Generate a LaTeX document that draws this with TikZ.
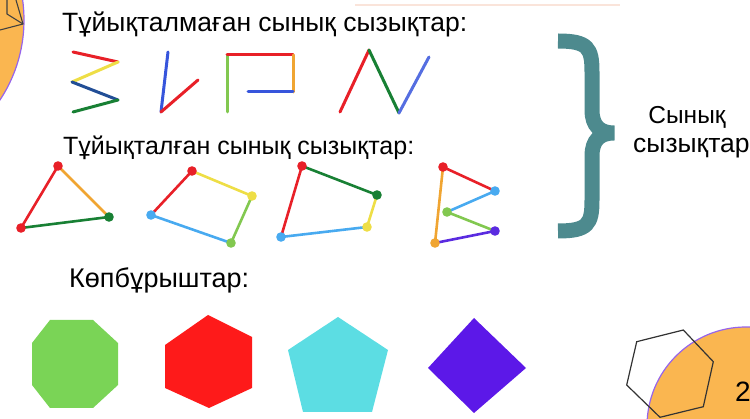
\documentclass[tikz,border=0pt]{standalone}
\usepackage{fontspec}
\setmainfont{Liberation Sans}
\definecolor{cred}{RGB}{232,32,40}
\definecolor{cyel}{RGB}{238,222,70}
\definecolor{cdblue}{RGB}{34,78,150}
\definecolor{cdgreen}{RGB}{24,128,52}
\definecolor{cblue}{RGB}{55,85,220}
\definecolor{corange}{RGB}{240,165,50}
\definecolor{clgreen}{RGB}{130,200,80}
\definecolor{cblue2}{RGB}{85,110,225}
\definecolor{clblue}{RGB}{72,170,240}
\definecolor{cpurple}{RGB}{90,43,224}
\definecolor{cteal}{RGB}{77,138,142}
\definecolor{octgreen}{RGB}{122,212,86}
\definecolor{hexred}{RGB}{254,26,26}
\definecolor{pentcyan}{RGB}{92,221,227}
\definecolor{diapurple}{RGB}{92,24,232}
\definecolor{circorange}{RGB}{250,182,80}
\definecolor{circedge}{RGB}{150,100,235}
\definecolor{faint}{RGB}{250,228,218}
\begin{document}
\begin{tikzpicture}[x=1pt,y=-1pt,
  ln/.style={line width=3pt,line cap=round,line join=round},
  cl/.style={line width=2.6pt,line cap=round},
  dotr/.style={radius=4.8pt},
  title/.style={anchor=base west,inner sep=0pt}]
\useasboundingbox (0,0) rectangle (750,419);
\clip (0,0) rectangle (750,419);
% corner decorations
\fill[circorange] (-121,20) circle (145pt);
\draw[circedge,line width=1.2pt] (-121,20) circle (145pt);
\draw[black!75,line width=1.1pt] (7,0) -- (7,14) -- (23,24);
\draw[black!75,line width=1.1pt] (16,0) -- (23,24) -- (0,30);
\draw[faint,line width=1.5pt] (355,5) -- (620,5);
\fill[circorange] (746,426) circle (99pt);
\draw[circedge,line width=1.2pt] (746,426) circle (99pt);
\draw[black!80,line width=1.2pt] (636.7,341.7) -- (683.3,330) -- (713.3,361.7) -- (703.3,406.7) -- (660,417.3) -- (626.7,385) -- cycle;
\node[anchor=base west,inner sep=0pt,font=\fontsize{28}{30}\selectfont] (pg) at (735,402) {2};
% titles
\node[title,font=\fontsize{26.5}{30}\selectfont] (t1) at (62,32) {Тұйықталмаған сынық сызықтар:};
\node[title,font=\fontsize{25}{30}\selectfont] (t2) at (63,155) {Тұйықталған сынық сызықтар:};
\node[title,font=\fontsize{27}{30}\selectfont] (t3) at (69,288) {Көпбұрыштар:};
% open polylines
\draw[ln,cred] (73,52) -- (118,62);
\draw[ln,cyel] (118,62) -- (72,82);
\draw[ln,cdblue] (72,82) -- (118,100);
\draw[ln,cdgreen] (118,100) -- (73,112);
\draw[ln,cblue] (168,52) -- (161,112);
\draw[ln,cred] (161,112) -- (198,80);
\draw[ln,clgreen] (227,112) -- (227,55);
\draw[ln,cred] (227,55) -- (293,55);
\draw[ln,corange] (293,55) -- (293,92);
\draw[ln,cblue] (293,92) -- (248,92);
\draw[ln,cred] (340,112) -- (369,50);
\draw[ln,cdgreen] (369,50) -- (399,113);
\draw[ln,cblue2] (399,113) -- (429,57);
% closed polylines
\coordinate (a1) at (58,166); \coordinate (a2) at (21,228); \coordinate (a3) at (109,217);
\draw[cl,cred] (a1) -- (a2);
\draw[cl,corange] (a1) -- (a3);
\draw[cl,cdgreen] (a2) -- (a3);
\fill[cred] (a1) circle[dotr]; \fill[cred] (a2) circle[dotr]; \fill[cdgreen] (a3) circle[dotr];
\coordinate (b1) at (192,171); \coordinate (b2) at (252,196); \coordinate (b3) at (231,243); \coordinate (b4) at (151,215);
\draw[cl,cred] (b4) -- (b1);
\draw[cl,cyel] (b1) -- (b2);
\draw[cl,clgreen] (b2) -- (b3);
\draw[cl,clblue] (b3) -- (b4);
\fill[cred] (b1) circle[dotr]; \fill[cyel] (b2) circle[dotr]; \fill[clgreen] (b3) circle[dotr]; \fill[clblue] (b4) circle[dotr];
\coordinate (c1) at (302,166); \coordinate (c2) at (377,195); \coordinate (c3) at (367,227); \coordinate (c4) at (281,237);
\draw[cl,cdgreen] (c1) -- (c2);
\draw[cl,cyel] (c2) -- (c3);
\draw[cl,clblue] (c3) -- (c4);
\draw[cl,cred] (c4) -- (c1);
\fill[cred] (c1) circle[dotr]; \fill[cdgreen] (c2) circle[dotr]; \fill[cyel] (c3) circle[dotr]; \fill[clblue] (c4) circle[dotr];
\coordinate (d1) at (443,167); \coordinate (d2) at (495,191); \coordinate (d3) at (447,212); \coordinate (d4) at (495,231); \coordinate (d5) at (435,243);
\draw[cl,cred] (d1) -- (d2);
\draw[cl,clblue] (d2) -- (d3);
\draw[cl,clgreen] (d3) -- (d4);
\draw[cl,cpurple] (d4) -- (d5);
\draw[cl,corange] (d5) -- (d1);
\fill[cred] (d1) circle[dotr]; \fill[clblue] (d2) circle[dotr]; \fill[clgreen] (d3) circle[dotr]; \fill[cpurple] (d4) circle[dotr]; \fill[corange] (d5) circle[dotr];
% brace
\draw[line width=15pt,cteal,line join=miter] (558,41) .. controls (588,41) and (592,48) .. (592,72) -- (592,110)
  .. controls (592,126) and (600,133) .. (614,133)
  .. controls (600,133) and (592,140) .. (592,156) -- (592,200)
  .. controls (592,224) and (588,231) .. (558,231);
\node[anchor=base,inner sep=0pt,font=\fontsize{24.5}{28}\selectfont] (s1) at (687,124) {Сынық};
\node[anchor=base west,inner sep=0pt,font=\fontsize{26.5}{28}\selectfont] (s2) at (633,153) {сызықтар};
% polygons
\fill[octgreen] (50,320) -- (93,320) -- (118,343) -- (118,385) -- (93,408) -- (50,408) -- (32,385) -- (32,343) -- cycle;
\fill[hexred] (208,315) -- (252,337) -- (252,388) -- (209,408) -- (165,388) -- (165,345) -- cycle;
\fill[pentcyan] (338,317) -- (388,350) -- (372,412) -- (303,412) -- (288,350) -- cycle;
\fill[diapurple] (474,318) -- (526,368) -- (474,413) -- (428,368) -- cycle;
\end{tikzpicture}
\end{document}
